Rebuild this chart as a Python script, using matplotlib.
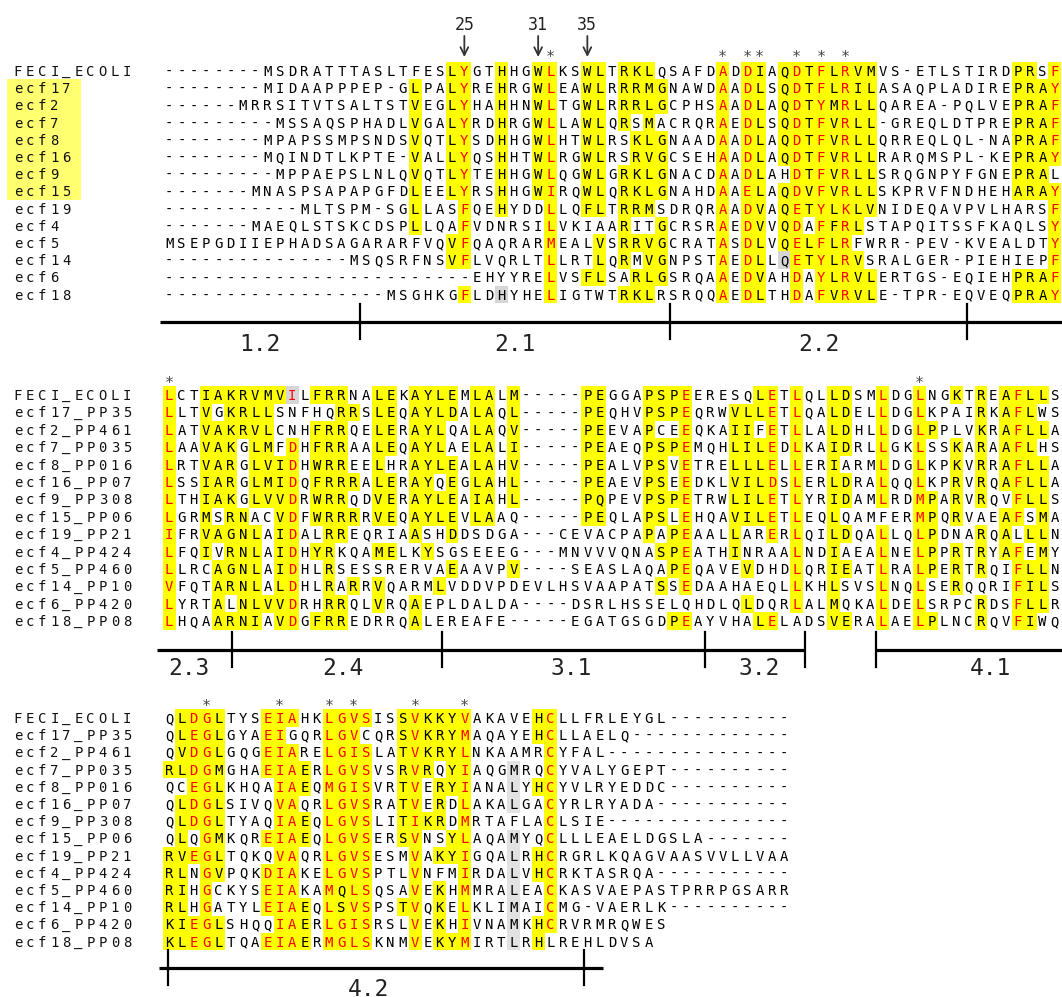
import matplotlib.pyplot as plt
from matplotlib.patches import Rectangle

# ---------------- alignment ----------------
names1 = ['FECI_ECOLI', 'ecf17', 'ecf2', 'ecf7', 'ecf8', 'ecf16', 'ecf9', 'ecf15',
          'ecf19', 'ecf4', 'ecf5', 'ecf14', 'ecf6', 'ecf18']
names2 = ['FECI_ECOLI', 'ecf17_PP35', 'ecf2_PP461', 'ecf7_PP035', 'ecf8_PP016',
          'ecf16_PP07', 'ecf9_PP308', 'ecf15_PP06', 'ecf19_PP21', 'ecf4_PP424',
          'ecf5_PP460', 'ecf14_PP10', 'ecf6_PP420', 'ecf18_PP08']
highlighted_names = ['ecf17', 'ecf2', 'ecf7', 'ecf8', 'ecf16', 'ecf9', 'ecf15']

seq1 = [
    '--------MSDRATTTASLTFESLYGTHHGWLKSWLTRKLQSAFDADDIAQDTFLRVMVS-ETLSTIRDPRSF',
    '--------MIDAAPPPEP-GLPALYREHRGWLEAWLRRRMGNAWDAADLSQDTFLRILASAQPLADIREPRAY',
    '------MRRSITVTSALTSTVEGLYHAHHNWLTGWLRRRLGCPHSAADLAQDTYMRLLQAREA-PQLVEPRAF',
    '---------MSSAQSPHADLVGALYRDHRGWLLAWLQRSMACRQRAEDLSQDTFVRLL-GREQLDTPREPRAF',
    '--------MPAPSSMPSNDSVQTLYSDHHGWLHTWLRSKLGNAADAADLAQDTFVRLLQRREQLQL-NAPRAF',
    '--------MQINDTLKPTE-VALLYQSHHTWLRGWLRSRVGCSEHAADLAQDTFVRLLRARQMSPL-KEPRAY',
    '---------MPPAEPSLNLQVQTLYTEHHGWLQGWLGRKLGNACDAADLAHDTFVRLLSRQGNPYFGNEPRAL',
    '-------MNASPSAPAPGFDLEELYRSHHGWIRQWLQRKLGNAHDAAELAQDVFVRLLSKPRVFNDHEHARAY',
    '-----------MLTSPM-SGLLASFQEHYDDLLQFLTRRMSDRQRAADVAQETYLKLVNIDEQAVPVLHARSF',
    '-------MAEQLSTSKCDSPLLQAFVDNRSILVKIAARITGCRSRAEDVVQDAFFRLSTAPQITSSFKAQLSY',
    'MSEPGDIIEPHADSAGARARFVQVFQAQRARMEALVSRRVGCRATASDLVQELFLRFWRR-PEV-KVEALDTY',
    '---------------MSQSRFNSVFLVQRLTLLRTLQRMVGNPSTAEDLLQETYLRVSRALGER-PIEHIEPF',
    '-------------------------EHYYRELVSFLSARLGSRQAAEDVAHDAYLRVLERTGS-EQIEHPRAF',
    '------------------MSGHKGFLDHYHELIGTWTRKLRSRQQAEDLTHDAFVRVLE-TPR-EQVEQPRAY',
]
seq2 = [
    'LCTIAKRVMVILFRRNALEKAYLEMLALM-----PEGGAPSPEERESQLETLQLLDSMLDGLNGKTREAFLLS',
    'LLTVGKRLLSNFHQRRSLEQAYLDALAQL-----PEQHVPSPEQRWVLLETLQALDELLDGLKPAIRKAFLWS',
    'LATVAKRVLCNHFRRQELERAYLQALAQV-----PEEVAPCEEQKAIIFETLLALDHLLDGLPPLVKRAFLLA',
    'LAAVAKGLMFDHFRRAALEQAYLAELALI-----PEAEQPSPEMQHLILEDLKAIDRLLGKLSSKARAAFLHS',
    'LRTVARGLVIDHWRREELHRAYLEALAHV-----PEALVPSVETRELLLELLERIARMLDGLKPKVRRAFLLA',
    'LSSIARGLMIDQFRRRALERAYQEGLAHL-----PEAEVPSEEDKLVILDSLERLDRALQQLKPRVRQAFLLA',
    'LTHIAKGLVVDRWRRQDVERAYLEAIAHL-----PQPEVPSPETRWLILETLYRIDAMLRDMPARVRQVFLLS',
    'LGRMSRNACVDFWRRRRVEQAYLEVLAAQ-----PEQLAPSLEHQAVILETLEQLQAMFERMPQRVAEAFSMA',
    'IFRVAGNLAIDALRREQRIAASHDDSDGA---CEVACPAPAPEAALLARERLQILDQALLQLPDNARQALLLN',
    'LFQIVRNLAIDHYRKQAMELKYSGSEEEG---MNVVVQNASPEATHINRAALNDIAEALNELPPRTRYAFEMY',
    'LLRCAGNLAIDHLRSESSRERVAEAAVPV----SEASLAQAPEQAVEVDHDLQRIEATLRALPERTRQIFLLN',
    'VFQTARNLALDHLRARRVQARMLVDDVPDEVLHSVAAPATSSEDAAHAEQLLKHLSVSLNQLSERQQRIFILS',
    'LYRTALNLVVDRHRRQLVRQAEPLDALDA----DSRLHSSELQHDLQLDQRLALMQKALDELSRPCRDSFLLR',
    'LHQAARNIAVDGFRREDRRQALEREAFE-----EGATGSGDPEAYVHALELADSVERALAELPLNCRQVFIWQ',
]
seq3 = [
    'QLDGLTYSEIAHKLGVSISSVKKYVAKAVEHCLLFRLEYGL----------',
    'QLEGLGYAEIGQRLGVCQRSVKRYMAQAYEHCLLAELQ-------------',
    'QVDGLGQGEIARELGISLATVKRYLNKAAMRCYFAL---------------',
    'RLDGMGHAEIAERLGVSVSRVRQYIAQGMRQCYVALYGEPT----------',
    'QCEGLKHQAIAEQMGISVRTVERYIANALYHCYVLRYEDDC----------',
    'QLDGLSIVQVAQRLGVSRATVERDLAKALGACYRLRYADA-----------',
    'QLDGLTYAQIAEQLGVSLITIKRDMRTAFLACLSIE---------------',
    'QLQGMKQREIAEQLGVSERSVNSYLAQAMYQCLLLEAELDGSLA-------',
    'RVEGLTQKQVAQRLGVSESMVAKYIGQALRHCRGRLKQAGVAASVVLLVAA',
    'RLNGVPQKDIAKELGVSPTLVNFMIRDALVHCRKTASRQA-----------',
    'RIHGCKYSEIAKAMQLSQSAVEKHMMRALEACKASVAEPASTPRRPGSARR',
    'RLHGATYLEIAEQLSVSPSTVQKELKLIMAICMG-VAERLK----------',
    'KIEGLSHQQIAERLGISRSLVEKHIVNAMKHCRVRMRQWES',
    'KLEGLTQAEIAERMGLSKNMVEKYMIRTLRHLREHLDVSA',
]

# shading: column -> residues that get the shade
yellow1 = {20: 'LIVM', 23: 'LIVM', 27: 'H', 30: 'W', 34: 'WFY', 35: 'LIVM',
           37: 'KR', 38: 'KR', 39: 'LIVM', 40: 'G', 48: 'LIVM', 50: 'Q', 52: 'TVL',
           54: 'LIVMF', 56: 'LIVM', 57: 'LIVM', 69: 'P', 70: 'R', 71: 'A'}
red1 = {24: 'YF', 31: 'LIM', 45: 'A', 47: 'DE', 51: 'DE', 53: 'FY', 55: 'RK', 72: 'FY'}
gray1 = {}
extra1 = [('ecf18', 27, 'gray'), ('ecf14', 50, 'gray'), ('ecf15', 69, 'yellow'),
          ('ecf19', 70, 'none')]

yellow2 = {3: 'IVLM', 4: 'A', 5: 'KRG', 6: 'RN', 7: 'LIVM', 8: 'LIVM', 9: 'LIVM',
           12: 'FWY', 13: 'R', 14: 'R', 15: 'R', 17: 'LIVM', 18: 'E', 20: 'A', 21: 'Y',
           22: 'L', 23: 'ED', 25: 'LIVM', 26: 'A', 28: 'LIVM', 34: 'P', 35: 'EQ',
           39: 'P', 40: 'S', 41: 'P', 46: 'LIVM', 47: 'LIVM', 48: 'LIVM', 54: 'LIVM',
           55: 'DE', 62: 'P', 64: 'KR', 66: 'KR', 68: 'A', 70: 'LIVM', 71: 'LIVM'}
red2 = {0: 'LIV', 10: 'D', 42: 'E', 49: 'ED', 51: 'L', 58: 'L', 61: 'LM', 69: 'F'}
gray2 = {}
extra2 = [('FECI_ECOLI', 10, 'grayred')]

yellow3 = {0: 'RK', 1: 'LIV', 4: 'LIVM', 11: 'E', 14: 'GQS', 19: 'STR', 21: 'KR',
           22: 'KR', 23: 'Y', 30: 'H'}
red3 = {2: 'DE', 3: 'G', 8: 'DE', 9: 'IV', 10: 'A', 13: 'LM', 14: 'G', 15: 'VIL',
        16: 'S', 20: 'VI', 24: 'VILM', 31: 'C'}
gray3 = {28: 'LM'}
extra3 = []

stars1 = [31, 45, 47, 48, 51, 53, 55]
stars2 = [0, 61]
stars3 = [3, 9, 13, 15, 20, 24]
marks1 = [(24, '25'), (30, '31'), (34, '35')]

# rulers in column units
ruler1 = {'lines': [(-0.25, 75)], 'ticks': [16.0, 41.2, 65.4],
          'labels': [('1.2', 7.9), ('2.1', 28.6), ('2.2', 53.3)]}
ruler2 = {'lines': [(-0.5, 52.2), (58.0, 75)], 'ticks': [5.6, 22.7, 44.1, 52.2, 58.0],
          'labels': [('2.3', 2.1), ('2.4', 14.6), ('3.1', 33.2), ('3.2', 48.5), ('4.1', 67.3)]}
ruler3 = {'lines': [(-0.3, 35.8)], 'ticks': [0.4, 34.2], 'labels': [('4.2', 16.7)]}

# ---------------- drawing ----------------
MONO = 'DejaVu Sans Mono'
X0, CW = 163, 12.3
YEL, RED, GRY = '#ffff00', '#ff0000', '#d6d6d6'

fig = plt.figure(figsize=(10.62, 9.97), dpi=100)
ax = fig.add_axes([0, 0, 1, 1])
ax.set_xlim(0, 1062)
ax.set_ylim(997, 0)
ax.axis('off')


def colx(c):
    return X0 + (c + 0.5) * CW


def style(ch, c, yellow, red, gray):
    if c in red and ch in red[c]:
        return YEL, RED
    if c in yellow and ch in yellow[c]:
        return YEL, 'black'
    if c in gray and ch in gray[c]:
        return '#e2e2e2', 'black'
    return None, 'black'


def draw_block(seqs, names, y0, pitch, yellow, red, gray, extra, stars, ystar,
               ruler, yrule, ylab):
    extra_map = {(names.index(n), c): k for n, c, k in extra}
    for r, (name, s) in enumerate(zip(names, seqs)):
        yc = y0 + r * pitch
        for i, ch in enumerate(name):
            ax.text(12 + (i + 0.5) * 12.1, yc + 5, ch, ha='center', va='baseline',
                    fontsize=10, family=MONO, color='#111111')
        for c, ch in enumerate(s):
            bg, fg = style(ch, c, yellow, red, gray)
            k = extra_map.get((r, c))
            if k == 'gray':
                bg, fg = GRY, 'black'
            elif k == 'grayred':
                bg, fg = GRY, RED
            elif k == 'yellow':
                bg, fg = YEL, 'black'
            elif k == 'none':
                bg, fg = None, 'black'
            if bg:
                ax.add_patch(Rectangle((X0 + c * CW - 0.2, yc - pitch / 2 - 0.2),
                                       CW + 0.4, pitch + 0.4, color=bg, lw=0, zorder=1))
            ax.text(colx(c), yc + 5, ch, ha='center', va='baseline', fontsize=10,
                    family=MONO, color=fg, zorder=3)
    for c in stars:
        ax.text(colx(c), ystar + 8, '*', ha='center', va='baseline', fontsize=11,
                family=MONO, color='#444444')
    for a, b in ruler['lines']:
        ax.plot([X0 + a * CW, X0 + b * CW], [yrule, yrule], color='black', lw=2.3,
                solid_capstyle='butt')
    for t in ruler['ticks']:
        ax.plot([X0 + t * CW] * 2, [yrule - 18, yrule + 17], color='black', lw=1.6)
    for txt, c in ruler['labels']:
        ax.text(X0 + c * CW, ylab, txt, ha='center', va='baseline', fontsize=16.5,
                family=MONO, color='#222222')


# label highlight for the first block
ax.add_patch(Rectangle((7, 79), 74, 121, color='#ffff70', lw=0, zorder=0))

draw_block(seq1, names1, 71, 17.2, yellow1, red1, gray1, extra1, stars1, 54,
           ruler1, 322, 351)
draw_block(seq2, names2, 395, 17.4, yellow2, red2, gray2, extra2, stars2, 380,
           ruler2, 650, 675)
draw_block(seq3, names2, 718, 17.2, yellow3, red3, gray3, extra3, stars3, 703,
           ruler3, 968, 996)

for c, txt in marks1:
    ax.text(colx(c), 30, txt, ha='center', va='baseline', fontsize=12, family=MONO,
            color='#222222')
    ax.annotate('', xy=(colx(c), 57), xytext=(colx(c), 36),
                arrowprops=dict(arrowstyle='->', color='#333333', lw=1.3,
                                shrinkA=0, shrinkB=0, mutation_scale=14))

fig.savefig('out.png', dpi=100)
